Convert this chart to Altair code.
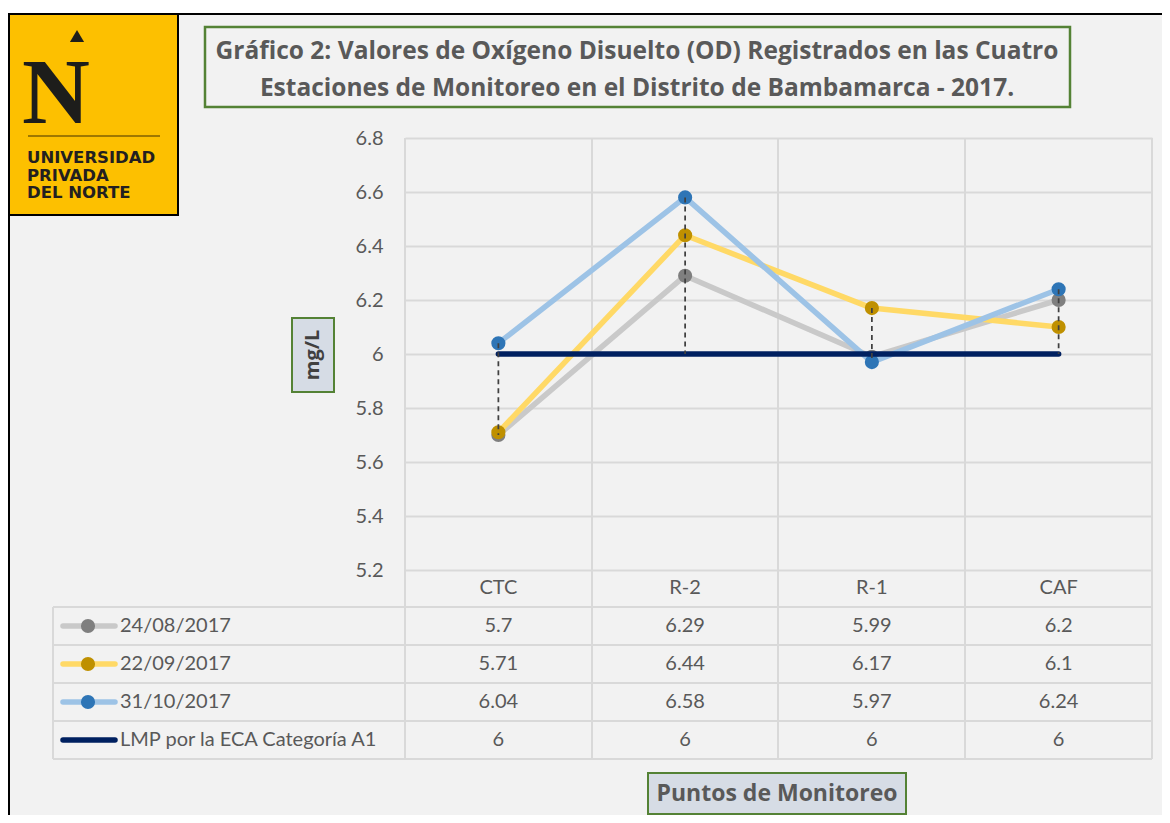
import altair as alt
import pandas as pd

# ---------------- data ----------------
categories = ["CTC", "R-2", "R-1", "CAF"]
series_names = ["24/08/2017", "22/09/2017", "31/10/2017", "LMP por la ECA Categoría A1"]
od_24_08 = [5.7, 6.29, 5.99, 6.2]
od_22_09 = [5.71, 6.44, 6.17, 6.1]
od_31_10 = [6.04, 6.58, 5.97, 6.24]
lmp_a1 = [6, 6, 6, 6]
y_ticks = [5.2, 5.4, 5.6, 5.8, 6.0, 6.2, 6.4, 6.6, 6.8]
title_lines = [
    "Gráfico 2: Valores de Oxígeno Disuelto (OD) Registrados en las Cuatro",
    "Estaciones de Monitoreo en el Distrito de Bambamarca - 2017.",
]
y_title = "mg/L"
x_title = "Puntos de Monitoreo"
logo_lines = ["UNIVERSIDAD", "PRIVADA", "DEL NORTE"]

# ---------------- styles ----------------
LINE_COLORS = ["#C9C9C9", "#FFD966", "#9DC3E6", "#002060"]
MARKER_COLORS = ["#7F7F7F", "#BF9000", "#2E75B6"]
GRID = "#D9D9D9"
TXT = "#595959"
FONT = "Lato"
TFONT = "Open Sans"
W, H = 747, 432

all_series = [od_24_08, od_22_09, od_31_10, lmp_a1]
rows = []
for s, vals in zip(series_names, all_series):
    for i, (c, v) in enumerate(zip(categories, vals)):
        rows.append({"serie": s, "cat": c, "idx": i, "val": v})
df = pd.DataFrame(rows)

hl = pd.DataFrame({
    "cat": categories,
    "hi": [max(t) for t in zip(*all_series)],
    "lo": [min(t) for t in zip(*all_series)],
})
one = pd.DataFrame({"k": [0]})

X = alt.X("cat:N", scale=alt.Scale(type="point", domain=categories, padding=0.5), axis=None)
YSCALE = alt.Scale(domain=[5.2, 6.8], nice=False, zero=False)
ROWSCALE = alt.Scale(type="point", domain=series_names, range=[488, 602], padding=0)


def rect(x, x2, y, y2, **kw):
    return alt.Chart(one).mark_rect(**kw).encode(
        x=alt.value(x), x2=alt.value(x2), y=alt.value(y), y2=alt.value(y2))


def hrule(x, x2, y, **kw):
    return alt.Chart(one).mark_rule(**kw).encode(
        x=alt.value(x), x2=alt.value(x2), y=alt.value(y))


def vrule(x, y, y2, **kw):
    return alt.Chart(one).mark_rule(**kw).encode(
        x=alt.value(x), y=alt.value(y), y2=alt.value(y2))


def label(txt, x, y, **kw):
    return alt.Chart(pd.DataFrame({"t": [txt]})).mark_text(**kw).encode(
        x=alt.value(x), y=alt.value(y), text="t:N")


layers = []

# frame
layers.append(rect(-397, 757, -130, -125, color="white"))
layers.append(rect(-397, 757, -125, -123, color="black"))
layers.append(rect(-397, -395, -125, 690, color="black"))

# logo
layers.append(rect(-395, -226, -123, 78, color="black"))
layers.append(rect(-395, -228, -123, 76, color="#FDC000"))
layers.append(label("N", -349, -15, font="Liberation Serif", fontWeight="bold", fontSize=94,
                    align="center", baseline="alphabetic", color="#1D1D1B"))
layers.append(alt.Chart(one).mark_point(shape="triangle-up", filled=True, size=200, opacity=1,
                                         color="#1D1D1B").encode(x=alt.value(-328), y=alt.value(-102)))
layers.append(hrule(-377, -245, -2, color="#7F6000", strokeWidth=1.5))
for i, t in enumerate(logo_lines):
    layers.append(label(t, -378, 20 + i * 17.5, font="DejaVu Sans", fontWeight=600, fontSize=16.5,
                        align="left", baseline="middle", color="#231F20"))

# title box
layers.append(rect(-200, 665, -111, -31, fill="#F2F2F2", stroke="#548235", strokeWidth=2.5))
for i, t in enumerate(title_lines):
    layers.append(label(t, 232, -86 + i * 37, font=TFONT, fontWeight="bold", fontSize=24.5,
                        align="center", baseline="middle", color=TXT))

# table grid
for yy in [469, 507, 545, 583, 621]:
    layers.append(hrule(-352, W, yy, color=GRID, strokeWidth=2))
for xx in [0, 187, 373, 560, W]:
    layers.append(vrule(xx, 0, 621, color=GRID, strokeWidth=2))
layers.append(vrule(-352, 469, 621, color=GRID, strokeWidth=2))

# y axis (labels + horizontal grid)
axis_layer = alt.Chart(df).mark_point(opacity=0).encode(
    x=X,
    y=alt.Y("val:Q", scale=YSCALE, axis=alt.Axis(
        values=y_ticks, format="~g", grid=True, gridColor=GRID, gridWidth=2,
        domain=False, ticks=False, labelPadding=22, labelFontSize=20,
        labelColor=TXT, labelFont=FONT, title=None)),
)
layers.append(axis_layer)

# series lines + markers
for k in range(3):
    sub = df[df.serie == series_names[k]]
    layers.append(alt.Chart(sub).mark_line(color=LINE_COLORS[k], strokeWidth=5.5,
                                           strokeCap="round", strokeJoin="round").encode(
        x=X, y=alt.Y("val:Q", scale=YSCALE, axis=None), order="idx:Q"))
    layers.append(alt.Chart(sub).mark_point(color=MARKER_COLORS[k], filled=True, opacity=1,
                                            size=200, shape="circle").encode(
        x=X, y=alt.Y("val:Q", scale=YSCALE, axis=None)))

# LMP line
layers.append(alt.Chart(df[df.serie == series_names[3]]).mark_line(
    color=LINE_COLORS[3], strokeWidth=5.5, strokeCap="round").encode(
    x=X, y=alt.Y("val:Q", scale=YSCALE, axis=None), order="idx:Q"))

# high-low dashed lines
layers.append(alt.Chart(hl).mark_rule(color="#404040", strokeDash=[5, 4], strokeWidth=1.75).encode(
    x=X, y=alt.Y("hi:Q", scale=YSCALE, axis=None), y2="lo:Q"))

# table header (categories)
layers.append(alt.Chart(pd.DataFrame({"cat": categories})).mark_text(
    font=FONT, fontSize=20, color=TXT, baseline="middle").encode(
    x=X, y=alt.value(450), text="cat:N"))

# table values
layers.append(alt.Chart(df).mark_text(font=FONT, fontSize=20, color=TXT, baseline="middle").encode(
    x=X, y=alt.Y("serie:N", scale=ROWSCALE, axis=None), text=alt.Text("val:Q", format="~g")))

# legend keys in table
for k in range(4):
    sub = pd.DataFrame({"serie": [series_names[k]]})
    layers.append(alt.Chart(sub).mark_rule(color=LINE_COLORS[k], strokeWidth=5.5, strokeCap="round").encode(
        x=alt.value(-342), x2=alt.value(-290), y=alt.Y("serie:N", scale=ROWSCALE, axis=None)))
    if k < 3:
        layers.append(alt.Chart(sub).mark_point(color=MARKER_COLORS[k], filled=True, opacity=1,
                                                size=200, shape="circle").encode(
            x=alt.value(-317), y=alt.Y("serie:N", scale=ROWSCALE, axis=None)))
layers.append(alt.Chart(pd.DataFrame({"serie": series_names})).mark_text(
    font=FONT, fontSize=20, color=TXT, align="left", baseline="middle").encode(
    x=alt.value(-285), y=alt.Y("serie:N", scale=ROWSCALE, axis=None), text="serie:N"))

# axis title boxes
layers.append(rect(-113, -71, 180, 254, fill="#D6DCE5", stroke="#548235", strokeWidth=2))
layers.append(label(y_title, -92, 217, font=TFONT, fontWeight="bold", fontSize=20, angle=270,
                    align="center", baseline="middle", color="#404040"))
layers.append(rect(243, 501, 635, 676, fill="#D6DCE5", stroke="#548235", strokeWidth=2))
layers.append(label(x_title, 372, 656, font=TFONT, fontWeight="bold", fontSize=23,
                    align="center", baseline="middle", color=TXT))

chart = alt.layer(*layers).resolve_scale(y="independent").properties(
    width=W, height=H,
    autosize=alt.AutoSizeParams(type="none"),
    padding={"left": 397, "top": 130, "right": 10, "bottom": 245},
    background="#F2F2F2",
).configure_view(stroke=None)

chart.save("out.html", embed_options={"renderer": "svg", "actions": False})
